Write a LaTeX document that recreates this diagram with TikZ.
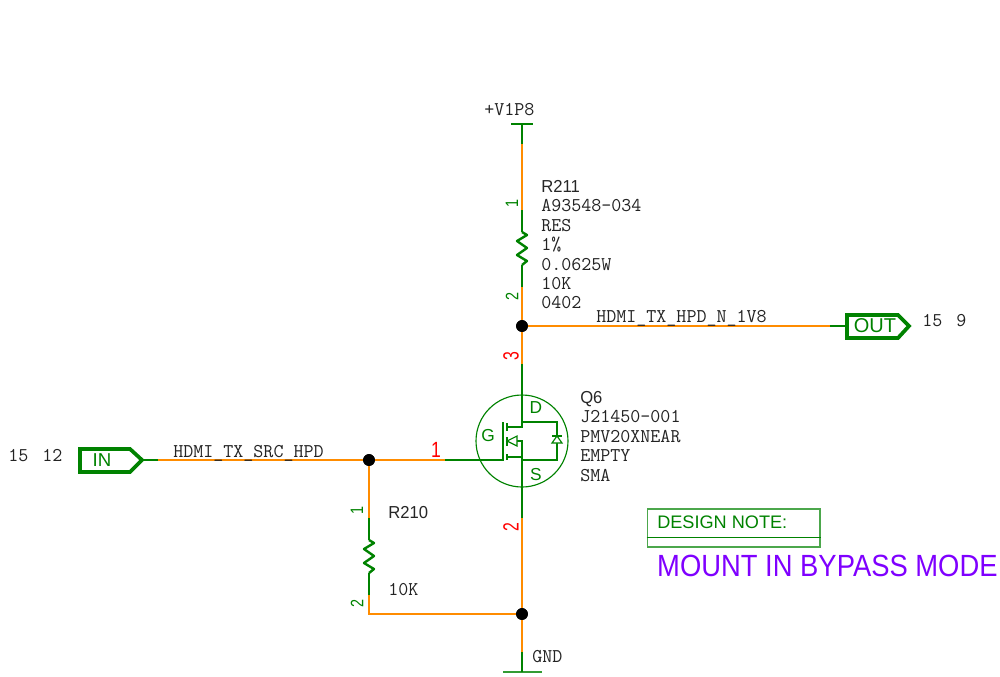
\documentclass[tikz,border=0pt]{standalone}
\usepackage{fontspec}
\setmainfont{Liberation Sans}
\definecolor{wirecol}{RGB}{255,140,0}
\definecolor{symcol}{RGB}{0,130,0}
\definecolor{notecol}{RGB}{127,0,255}
\definecolor{txtcol}{RGB}{35,35,35}
\tikzset{
	wire/.style={draw=wirecol,line width=1.7pt},
	stub/.style={draw=symcol,line width=.85pt},
	sym/.style={draw=symcol,line width=.85pt},
	flag/.style={draw=symcol,line width=2.8pt,line join=miter},
	mono/.style={anchor=base west,inner sep=0pt,text=txtcol,font=\ttfamily\fontsize{14.6}{16}\selectfont},
	refdes/.style={anchor=base west,inner sep=0pt,text=black!85,xscale=.96,font=\fontsize{13}{15}\selectfont},
	pinnum/.style={inner sep=0pt,rotate=90,xscale=.8,text=symcol,font=\fontsize{13.5}{15}\selectfont},
	pinred/.style={inner sep=0pt,rotate=90,xscale=.72,text=red,font=\fontsize{16.5}{18}\selectfont},
	fetlbl/.style={inner sep=0pt,text=symcol,font=\fontsize{13}{15}\selectfont},
	flagtxt/.style={inner sep=0pt,text=symcol,font=\fontsize{14}{16}\selectfont},
	dotnode/.style={circle,fill=black,inner sep=0pt,minimum size=8.8pt},
	reszag/.pic={\draw[symcol,line width=1.8pt,line join=round] (0,0)--(5,3)--(-5,9)--(5,16)--(-5,23)--(5,29)--(0,33);}
}
\begin{document}
\begin{tikzpicture}[x=.75pt,y=-.75pt]
	\useasboundingbox (0,0) rectangle (1000,676);
	% power and ground
	\coordinate (vtop) at (522,124);
	\coordinate (vtopL) at (511,124);
	\coordinate (vtopR) at (533,124);
	\coordinate (gndbot) at (522,672);
	\coordinate (gndL) at (503,672);
	\coordinate (gndR) at (542,672);
	\draw[stub] (vtopL)--(vtopR);
	\draw[wire,draw=symcol!80,line width=1.2pt] (gndL)--(gndR);
	% junctions
	\node[dotnode] (jout) at (522,326) {};
	\node[dotnode] (jin) at (369,460) {};
	\node[dotnode] (jgnd) at (522,614) {};
	% R211
	\coordinate (r211a) at (522,144);
	\coordinate (r211b) at (522,210);
	\coordinate (r211c) at (522,232);
	\coordinate (r211d) at (522,265);
	\coordinate (r211e) at (522,287);
	\draw[stub] (vtop)--(r211a);
	\draw[wire] (r211a)--(r211b);
	\draw[stub] (r211b)--(r211c);
	\pic at (r211c) {reszag};
	\draw[stub] (r211d)--(r211e);
	\draw[wire] (r211e)--(jout);
	% Q6
	\coordinate (qd) at (522,364);
	\coordinate (qs) at (522,518);
	\coordinate (qg) at (445,460);
	\coordinate (qgate) at (503,460);
	\draw[wire] (jout)--(qd);
	\draw[stub] (qd)--(522,427)--(507,427);
	\draw[sym] (522,441) circle (46);
	\draw[stub] (qg)--(qgate)--(503,422);
	\draw[sym] (507,423)--(507,431) (507,437)--(507,446) (507,454)--(507,460);
	\draw[sym] (507,457)--(522,457);
	\draw[sym] (516,441)--(522,441)--(522,460);
	\draw[sym,fill=white] (507,441)--(517,436)--(517,446)--cycle;
	\draw[sym] (522,422)--(557,422)--(557,460)--(522,460);
	\draw[sym,fill=white] (557,436)--(552,443)--(562,443)--cycle;
	\draw[sym] (552,436)--(562,436);
	\draw[stub] (522,460)--(qs);
	\draw[wire] (qs)--(jgnd);
	\draw[wire] (jgnd)--(522,652);
	\draw[stub] (522,652)--(gndbot);
	% input side
	\coordinate (intip) at (142,460);
	\coordinate (inwire) at (158,460);
	\draw[stub] (intip)--(inwire);
	\draw[wire] (inwire)--(jin);
	\draw[wire] (jin)--(qg);
	\draw[flag] (80,449)--(130,449)--(intip)--(130,472)--(80,472)--cycle;
	\node[flagtxt] (inlbl) at (102,460) {IN};
	% R210
	\coordinate (r210a) at (369,518);
	\coordinate (r210b) at (369,540);
	\coordinate (r210c) at (369,573);
	\coordinate (r210d) at (369,595);
	\coordinate (r210e) at (369,614);
	\draw[wire] (jin)--(r210a);
	\draw[stub] (r210a)--(r210b);
	\pic at (r210b) {reszag};
	\draw[stub] (r210c)--(r210d);
	\draw[wire,line join=miter] (r210d)--(r210e)--(jgnd);
	% output side
	\coordinate (outwire) at (830,326);
	\coordinate (outtail) at (847,326);
	\draw[wire] (jout)--(outwire);
	\draw[stub] (outwire)--(outtail);
	\draw[flag] (847,315)--(898,315)--(909,326)--(898,338)--(847,338)--cycle;
	\node[flagtxt,font=\fontsize{15}{17}\selectfont] (outlbl) at (875,326) {OUT};
	% junction dots again on top of wires
	\node[dotnode] at (jout) {};
	\node[dotnode] at (jin) {};
	\node[dotnode] at (jgnd) {};
	% pin numbers
	\node[pinnum] (p1a) at (512,203) {1};
	\node[pinnum] (p2a) at (512,296) {2};
	\node[pinnum] (p1b) at (357,510) {1};
	\node[pinnum] (p2b) at (357,603) {2};
	\node[pinred] (p3q) at (511,356) {3};
	\node[pinred] (p2q) at (511,527) {2};
	\node[inner sep=0pt,text=red,xscale=.8,font=\fontsize{16.5}{18}\selectfont] (p1q) at (436,450) {1};
	\node[fetlbl] (lblg) at (488,436) {G};
	\node[fetlbl] (lbld) at (536,408) {D};
	\node[fetlbl] (lbls) at (536,475) {S};
	% text
	\node[mono] (vlbl) at (484,115) {+V1P8};
	\node[mono] (gndlbl) at (532,662) {GND};
	\node[refdes] (r211) at (541,192) {R211};
	\foreach \ypos/\txt [count=\i] in {211/A93548-034,231/RES,250/1\%,270/0.0625W,289/10K,308/0402}
		\node[mono] (r211t\i) at (541,\ypos) {\txt};
	\node[refdes] (q6) at (580,403) {Q6};
	\foreach \ypos/\txt [count=\i] in {422/J21450-001,442/PMV20XNEAR,461/EMPTY,481/SMA}
		\node[mono] (q6t\i) at (580,\ypos) {\txt};
	\node[refdes] (r210) at (388,518) {R210};
	\node[mono] (r210t) at (388,595) {10K};
	\node[mono] (netout) at (596,322) {HDMI\_TX\_HPD\_N\_1V8};
	\node[mono] (netin) at (173,457) {HDMI\_TX\_SRC\_HPD};
	\node[mono] (ref1) at (8,461) {15};
	\node[mono] (ref2) at (42,461) {12};
	\node[mono] (ref3) at (922,326) {15};
	\node[mono] (ref4) at (956,326) {9};
	% design note
	\node[draw=symcol!70,line width=.8pt,minimum width=129.7pt,minimum height=28.5pt,inner sep=0pt] (notebox) at (733.5,528) {};
	\draw[sym,line width=.7pt] (notebox.west |- 0,537)--(notebox.east |- 0,537);
	\node[inner sep=0pt,anchor=base west,text=symcol,font=\fontsize{13.6}{15}\selectfont] (notehead) at (657,528) {DESIGN NOTE:};
	\node[inner sep=0pt,anchor=base west,text=notecol,xscale=.893,font=\fontsize{23}{25}\selectfont] (notebody) at (657,576) {MOUNT IN BYPASS MODE};
\end{tikzpicture}
\end{document}
